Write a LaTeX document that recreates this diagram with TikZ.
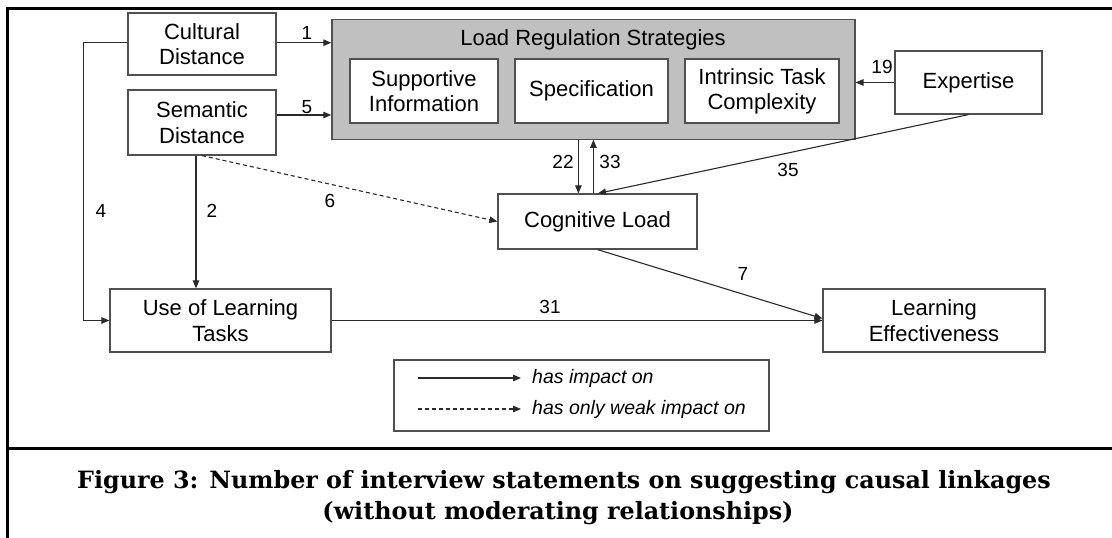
\documentclass[tikz,border=0pt]{standalone}
\usepackage{fontspec}
\setsansfont{Liberation Sans}
\newfontfamily\capfamily{DejaVu Serif}
\usetikzlibrary{arrows.meta,calc}
\definecolor{linec}{HTML}{2A2A2A}
\definecolor{boxc}{HTML}{505050}
\definecolor{lrsfill}{HTML}{C0C0C0}
\newcommand\nodefnt{\fontsize{22}{25.3}\selectfont\sffamily}
\newcommand\numfnt{\fontsize{19}{21}\selectfont\sffamily}
\newcommand\legfnt{\fontsize{19.5}{22}\selectfont\sffamily\itshape}
\newcommand\capfnt{\fontsize{23.8}{28}\selectfont\capfamily\bfseries}
\begin{document}
\begin{tikzpicture}[x=1pt,y=-1pt,
  box/.style={draw=boxc,fill=white,line width=1.2pt,inner sep=0pt,align=center,font=\nodefnt},
  arr/.style={draw=linec,line width=1.1pt,-{Triangle[length=8pt,width=6.5pt]}},
  weak/.style={arr,dash pattern=on 4pt off 3pt},
  num/.style={font=\numfnt,inner sep=0pt},
  legtext/.style={font=\legfnt,inner sep=0pt,anchor=west},
  frameline/.style={line width=2.6pt,draw=black}]
\useasboundingbox (0,0) rectangle (1112,538);
% frame
\draw[frameline] (7.5,538) -- (7.5,8.5) -- (1112,8.5);
\draw[frameline] (7.5,448.5) -- (1112,448.5);
% nodes
\node[box,minimum width=148pt,minimum height=62pt] (cult) at (202,44) {Cultural\\Distance};
\node[box,minimum width=148pt,minimum height=65pt] (sem) at (202,122.5) {Semantic\\Distance};
\node[draw=boxc,fill=lrsfill,line width=1.2pt,minimum width=523pt,minimum height=120pt,inner sep=0pt] (lrs) at (593.4,79.2) {};
\node[font=\nodefnt,inner sep=0pt] (lrst) at (593,39.5) {Load Regulation Strategies};
\node[box,minimum width=148pt,minimum height=64pt] (sup) at (424,91) {Supportive\\Information};
\node[box,minimum width=153pt,minimum height=64pt] (spec) at (591.5,91) {Specification};
\node[box,minimum width=154pt,minimum height=64pt] (itc) at (762,91) {Intrinsic Task\\Complexity};
\node[box,minimum width=147pt,minimum height=63pt] (exp) at (968.5,82.5) {Expertise};
\node[box,minimum width=199pt,minimum height=55pt] (cog) at (597.5,221.5) {Cognitive Load};
\node[box,minimum width=221pt,minimum height=63pt] (ult) at (220.5,320.5) {Use of Learning\\Tasks};
\node[box,minimum width=222pt,minimum height=63pt] (le) at (934,320.5) {Learning\\Effectiveness};
% connectors
\draw[arr] ([yshift=1.3pt]cult.east) -- ([yshift=1.3pt]cult.east -| lrs.west);
\draw[arr] ([yshift=7.5pt]sem.east) -- ([yshift=7.5pt]sem.east -| lrs.west);
\draw[arr] (exp.west) -- (exp.west -| lrs.east);
\draw[arr] ([xshift=-15pt]lrs.south) -- ([xshift=-15pt]lrs.south |- cog.north);
\draw[arr] (lrs.south |- cog.north) -- (lrs.south);
\draw[arr] (exp.south) -- ([xshift=0.5pt]cog.north);
\draw[weak] (sem.south) -- (cog.west);
\draw[arr] ([xshift=-6pt]sem.south) -- ([xshift=-6pt]sem.south |- ult.north);
\draw[arr] ([yshift=1.3pt]cult.west) -- ++(-44,0) |- (ult.west);
\draw[arr] (ult.east) -- (le.west);
\draw[arr] (cog.south) -- ([yshift=2pt]le.west);
% numbers
\node[num] (n1) at (307,33) {1};
\node[num] (n5) at (307,107) {5};
\node[num] (n19) at (882,67) {19};
\node[num] (n22) at (563,162) {22};
\node[num] (n33) at (610,162) {33};
\node[num] (n35) at (788,170) {35};
\node[num] (n6) at (330,201) {6};
\node[num] (n2) at (212,211) {2};
\node[num] (n4) at (101,211) {4};
\node[num] (n31) at (550,307) {31};
\node[num] (n7) at (743,274) {7};
% legend
\node[draw=boxc,line width=1.2pt,minimum width=375pt,minimum height=71pt,inner sep=0pt] (leg) at (581.5,395.5) {};
\node[legtext] (lt1) at (532,378) {has impact on};
\node[legtext] (lt2) at (532,409) {has only weak impact on};
\coordinate (ls1) at (418,378);
\coordinate (ls2) at (418,409);
\draw[arr] (ls1) -- ([xshift=-11pt]lt1.west);
\draw[weak] (ls2) -- ([xshift=-11pt]lt2.west);
% caption
\node[font=\capfnt,inner sep=0pt,anchor=base] (cap1) at (564,488) {Figure 3: Number of interview statements on suggesting causal linkages};
\node[font=\capfnt,inner sep=0pt,anchor=base] (cap2) at (558,519) {(without moderating relationships)};
\end{tikzpicture}
\end{document}
